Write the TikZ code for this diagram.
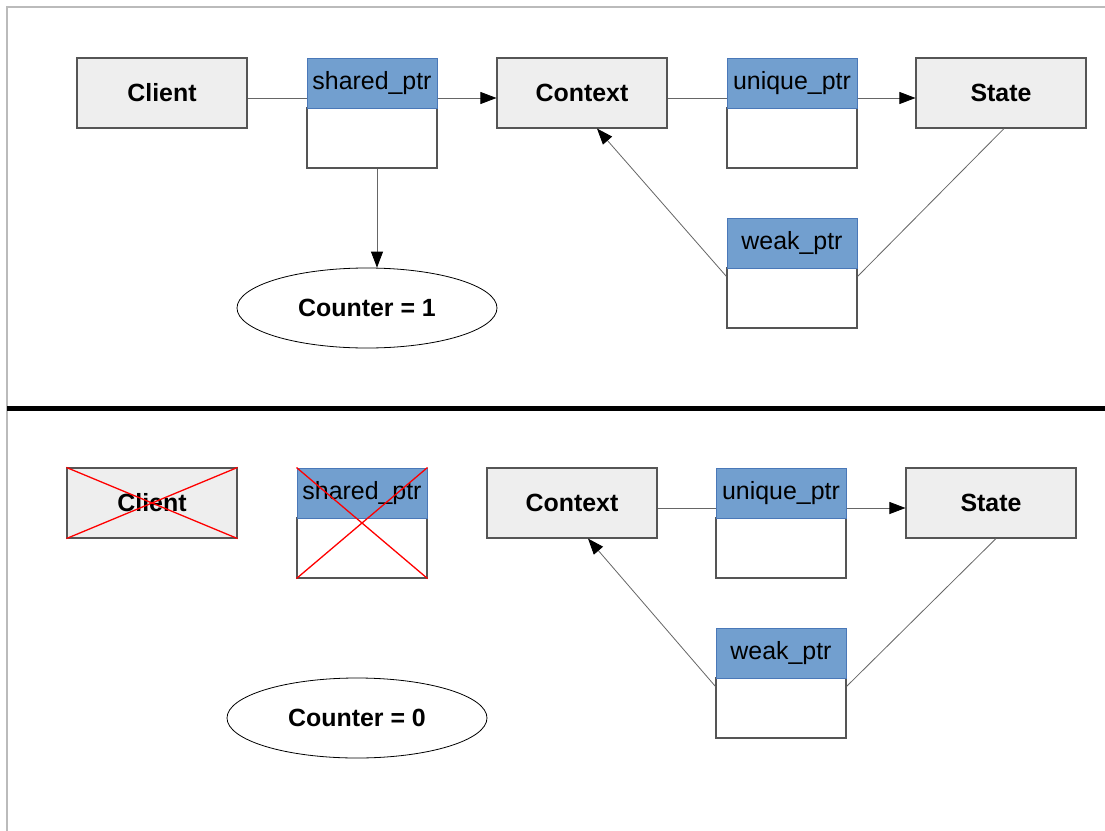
\documentclass[tikz,border=0pt]{standalone}
\usepackage{fontspec}
\setmainfont{Liberation Sans}
\usetikzlibrary{arrows.meta,shapes.geometric}
\definecolor{objgray}{HTML}{EEEEEE}
\definecolor{objline}{HTML}{555555}
\definecolor{ptrblue}{HTML}{729FCF}
\definecolor{ptrline}{HTML}{4A78B8}
\definecolor{linkgray}{HTML}{666666}
\definecolor{framegray}{HTML}{BBBBBB}
\definecolor{crossred}{HTML}{FF0000}
\tikzset{
  objbox/.style={draw=objline, line width=1.1bp, fill=objgray, inner sep=0pt,
    minimum width=170bp, minimum height=70bp,
    font=\fontsize{25}{28}\selectfont\bfseries},
  ptrhead/.style={draw=ptrline, line width=1bp, fill=ptrblue, inner sep=0pt,
    minimum width=130bp, minimum height=50bp,
    font=\fontsize{25}{28}\selectfont},
  ptrbody/.style={draw=objline, line width=1.1bp, fill=white, inner sep=0pt,
    minimum width=130bp, minimum height=60bp},
  counterell/.style={ellipse, draw=black, line width=0.8bp, fill=white, inner sep=0pt,
    minimum width=260bp, minimum height=80bp,
    font=\fontsize{25}{28}\selectfont\bfseries},
  link/.style={draw=linkgray, line width=0.8bp},
  arr/.style={link, -{Triangle[length=16bp,width=12bp,fill=black,color=black]}},
  crossline/.style={draw=crossred, line width=1.3bp},
  framel/.style={draw=framegray, line width=1.2bp},
  divider/.style={draw=black, line width=5bp}
}
\begin{document}
\begin{tikzpicture}[x=1bp,y=-1bp]
\useasboundingbox (0,0) rectangle (1105,831);
\fill[white] (0,0) rectangle (1105,831);
% frame
\coordinate (ftl) at (7,7);
\coordinate (ftr) at (1105,7);
\coordinate (fbl) at (7,831);
\draw[framel] (ftr) -- (ftl) -- (fbl);
\coordinate (dl) at (7,408.5);
\coordinate (dr) at (1105,408.5);
\draw[divider] (dl) -- (dr);

% ===== top =====
\node[objbox] (client) at (162,93) {Client};
\node[ptrbody] (sp-b) at (372,138) {};
\node[ptrhead] (sp-h) at (372,83) {shared\_ptr};
\node[objbox] (context) at (582,93) {Context};
\node[ptrbody] (up-b) at (792,138) {};
\node[ptrhead] (up-h) at (792,83) {unique\_ptr};
\node[objbox] (state) at (1001,93) {State};
\node[ptrbody] (wp-b) at (792,298) {};
\node[ptrhead] (wp-h) at (792,243) {weak\_ptr};
\node[counterell] (cnt1) at (367,308) {Counter = 1};

\draw[link] ([yshift=-5bp]client.east) -- ([yshift=-5bp]client.east -| sp-h.west);
\draw[arr] ([yshift=-5bp]context.west -| sp-h.east) -- ([yshift=-5bp]context.west);
\draw[link] ([yshift=-5bp]context.east) -- ([yshift=-5bp]context.east -| up-h.west);
\draw[arr] ([yshift=-5bp]state.west -| up-h.east) -- ([yshift=-5bp]state.west);
\draw[arr] ([xshift=5bp]sp-b.south) -- ([xshift=5bp]sp-b.south |- cnt1.north);
\draw[arr] ([yshift=-9bp]wp-b.north west) -- ([xshift=15bp]context.south);
\draw[link] ([yshift=-9bp]wp-b.north east) -- ([xshift=3bp]state.south);

% ===== bottom =====
\node[objbox] (client2) at (152,503) {Client};
\node[ptrbody] (sp2-b) at (362,548) {};
\node[ptrhead] (sp2-h) at (362,493) {shared\_ptr};
\node[objbox] (context2) at (572,503) {Context};
\node[ptrbody] (up2-b) at (781,548) {};
\node[ptrhead] (up2-h) at (781,493) {unique\_ptr};
\node[objbox] (state2) at (991,503) {State};
\node[ptrbody] (wp2-b) at (781,708) {};
\node[ptrhead] (wp2-h) at (781,653) {weak\_ptr};
\node[counterell] (cnt0) at (357,718) {Counter = 0};

\draw[crossline] (client2.north west) -- (client2.south east);
\draw[crossline] (client2.south west) -- (client2.north east);
\draw[crossline] (sp2-h.north west) -- (sp2-b.south east);
\draw[crossline] (sp2-b.south west) -- (sp2-h.north east);

\draw[link] ([yshift=-5bp]context2.east) -- ([yshift=-5bp]context2.east -| up2-h.west);
\draw[arr] ([yshift=-5bp]state2.west -| up2-h.east) -- ([yshift=-5bp]state2.west);
\draw[arr] ([yshift=-9bp]wp2-b.north west) -- ([xshift=16bp]context2.south);
\draw[link] ([yshift=-9bp]wp2-b.north east) -- ([xshift=5bp]state2.south);
\end{tikzpicture}
\end{document}
